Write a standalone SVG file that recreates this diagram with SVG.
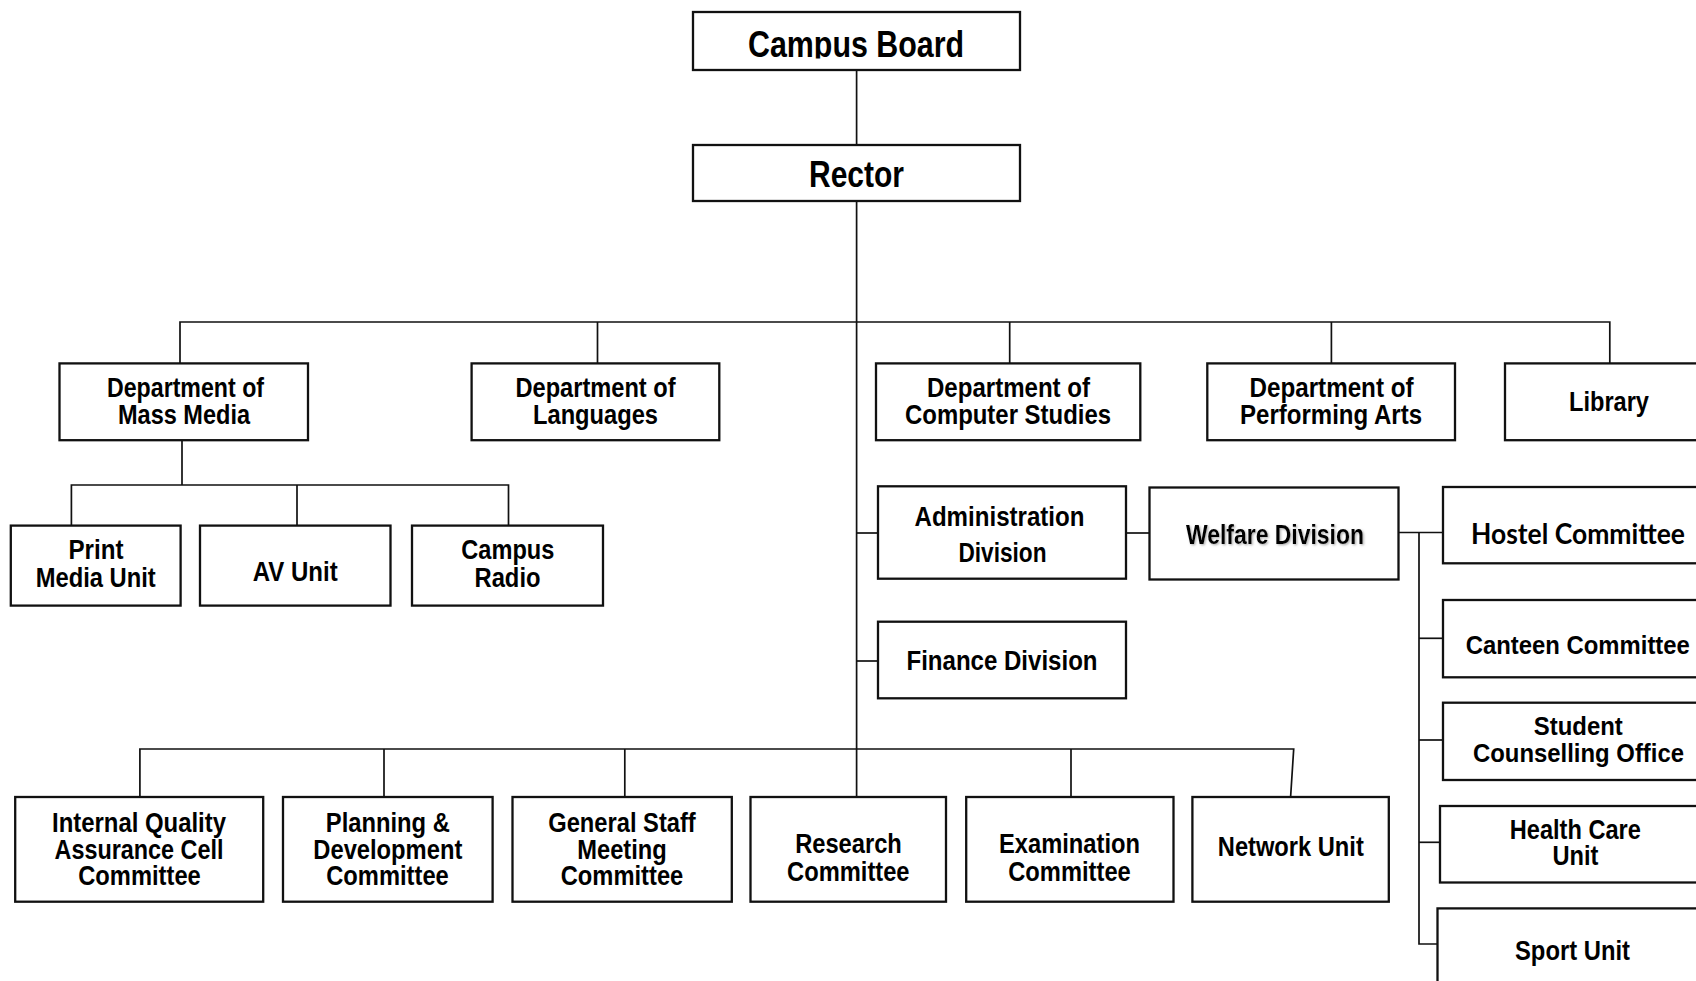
<svg xmlns="http://www.w3.org/2000/svg" width="1696" height="981" viewBox="0 0 1696 981">
<style>
.box{fill:#fff;stroke:#111;stroke-width:2.3}
.c{stroke:#111;stroke-width:1.7;fill:none}
.t{font-family:"Liberation Sans",Arial,sans-serif;font-weight:bold;font-size:27px;text-anchor:middle;fill:#000}
.big{font-size:37px}
.sm{font-size:25px}
.cal{font-family:Lato,"Open Sans","Liberation Sans",sans-serif;font-size:28px}
.sh{filter:url(#shadow)}
</style>
<defs>
<clipPath id="cbclip"><rect x="690" y="0" width="335" height="58.5"/></clipPath>
<filter id="shadow" x="-10%" y="-30%" width="120%" height="160%">
<feDropShadow dx="1.2" dy="1.2" stdDeviation="0.9" flood-color="#777" flood-opacity="0.6"/>
</filter>
</defs>
<rect width="1696" height="981" fill="#fff"/>

<g id="connectors">
<line class="c" x1="856.6" y1="70" x2="856.6" y2="145"/>
<line class="c" x1="856.6" y1="201" x2="856.6" y2="797"/>
<polyline class="c" points="180,363 180,322 1609.8,322 1609.8,363"/>
<line class="c" x1="597.5" y1="322" x2="597.5" y2="363"/>
<line class="c" x1="1009.7" y1="322" x2="1009.7" y2="363"/>
<line class="c" x1="1331.4" y1="322" x2="1331.4" y2="363"/>
<line class="c" x1="182" y1="440" x2="182" y2="485"/>
<polyline class="c" points="71.4,525.6 71.4,485 508.5,485 508.5,525.6"/>
<line class="c" x1="297" y1="485" x2="297" y2="525.6"/>
<line class="c" x1="856.6" y1="533" x2="878" y2="533"/>
<line class="c" x1="1126" y1="533" x2="1150" y2="533"/>
<line class="c" x1="856.6" y1="661" x2="878" y2="661"/>
<line class="c" x1="1398.5" y1="532.5" x2="1443" y2="532.5"/>
<polyline class="c" points="1419,532.5 1419,944 1437.5,944"/>
<line class="c" x1="1419" y1="638.3" x2="1443" y2="638.3"/>
<line class="c" x1="1419" y1="740" x2="1443" y2="740"/>
<line class="c" x1="1419" y1="842.3" x2="1440" y2="842.3"/>
<polyline class="c" points="139.9,797 139.9,749 1293.7,749 1290.6,797"/>
<line class="c" x1="384" y1="749" x2="384" y2="797"/>
<line class="c" x1="624.8" y1="749" x2="624.8" y2="797"/>
<line class="c" x1="1071" y1="749" x2="1071" y2="797"/>
</g>

<g id="campus-board">
<rect class="box" x="693" y="12" width="327" height="58"/>
<text class="t big" x="856" y="57" textLength="216" lengthAdjust="spacingAndGlyphs" clip-path="url(#cbclip)">Campus Board</text>
</g>
<g id="rector">
<rect class="box" x="693" y="145" width="327" height="56"/>
<text class="t big" x="856.5" y="187" textLength="95" lengthAdjust="spacingAndGlyphs">Rector</text>
</g>

<g id="dept-mass-media">
<rect class="box" x="59.5" y="363.4" width="248.5" height="76.8"/>
<text class="t" x="185.5" y="397" textLength="157" lengthAdjust="spacingAndGlyphs">Department of</text>
<text class="t" x="184" y="423.5" textLength="132" lengthAdjust="spacingAndGlyphs">Mass Media</text>
</g>
<g id="dept-languages">
<rect class="box" x="471.6" y="363.4" width="247.7" height="76.8"/>
<text class="t" x="595.5" y="397" textLength="160" lengthAdjust="spacingAndGlyphs">Department of</text>
<text class="t" x="595.5" y="423.5" textLength="125" lengthAdjust="spacingAndGlyphs">Languages</text>
</g>
<g id="dept-computer-studies">
<rect class="box" x="876" y="363.4" width="264.3" height="76.8"/>
<text class="t" x="1008.5" y="397" textLength="163" lengthAdjust="spacingAndGlyphs">Department of</text>
<text class="t" x="1008" y="423.5" textLength="206" lengthAdjust="spacingAndGlyphs">Computer Studies</text>
</g>
<g id="dept-performing-arts">
<rect class="box" x="1207.3" y="363.4" width="247.7" height="76.8"/>
<text class="t" x="1331.5" y="397" textLength="164" lengthAdjust="spacingAndGlyphs">Department of</text>
<text class="t" x="1331" y="423.5" textLength="182" lengthAdjust="spacingAndGlyphs">Performing Arts</text>
</g>
<g id="library">
<rect class="box" x="1505" y="363.4" width="215" height="76.8"/>
<text class="t" x="1609" y="410.5" textLength="80" lengthAdjust="spacingAndGlyphs">Library</text>
</g>

<g id="print-media-unit">
<rect class="box" x="10.8" y="525.6" width="169.8" height="80"/>
<text class="t" x="96" y="559" textLength="55" lengthAdjust="spacingAndGlyphs">Print</text>
<text class="t" x="95.7" y="587" textLength="120" lengthAdjust="spacingAndGlyphs">Media Unit</text>
</g>
<g id="av-unit">
<rect class="box" x="200" y="525.6" width="190.5" height="80"/>
<text class="t" x="295.2" y="581" textLength="85" lengthAdjust="spacingAndGlyphs">AV Unit</text>
</g>
<g id="campus-radio">
<rect class="box" x="412" y="525.6" width="191" height="80"/>
<text class="t" x="507.8" y="559" textLength="93" lengthAdjust="spacingAndGlyphs">Campus</text>
<text class="t" x="507.5" y="587" textLength="66" lengthAdjust="spacingAndGlyphs">Radio</text>
</g>

<g id="administration-division">
<rect class="box" x="878" y="486.3" width="248" height="92.4"/>
<text class="t" x="999.5" y="525.5" textLength="170" lengthAdjust="spacingAndGlyphs">Administration</text>
<text class="t" x="1002.5" y="561.5" textLength="88" lengthAdjust="spacingAndGlyphs">Division</text>
</g>
<g id="welfare-division">
<rect class="box" x="1149.5" y="487.5" width="249" height="92"/>
<text class="t sh" x="1275" y="544" textLength="178" lengthAdjust="spacingAndGlyphs">Welfare Division</text>
</g>
<g id="finance-division">
<rect class="box" x="878" y="621.7" width="248" height="76.6"/>
<text class="t" x="1002" y="670" textLength="191" lengthAdjust="spacingAndGlyphs">Finance Division</text>
</g>

<g id="hostel-committee">
<rect class="box" x="1443" y="487" width="275" height="76.3"/>
<text class="t cal" x="1578" y="543.5" textLength="214" lengthAdjust="spacingAndGlyphs">Hostel Committee</text>
</g>
<g id="canteen-committee">
<rect class="box" x="1443" y="600" width="275" height="77.3"/>
<text class="t sm" x="1577.8" y="654" textLength="224" lengthAdjust="spacingAndGlyphs">Canteen Committee</text>
</g>
<g id="student-counselling-office">
<rect class="box" x="1443" y="702.7" width="275" height="77.3"/>
<text class="t sm" x="1578.3" y="735" textLength="89" lengthAdjust="spacingAndGlyphs">Student</text>
<text class="t sm" x="1578.5" y="761.5" textLength="211" lengthAdjust="spacingAndGlyphs">Counselling Office</text>
</g>
<g id="health-care-unit">
<rect class="box" x="1440" y="806" width="278" height="76.5"/>
<text class="t" x="1575.3" y="838.5" textLength="131" lengthAdjust="spacingAndGlyphs">Health Care</text>
<text class="t" x="1575.5" y="865" textLength="46" lengthAdjust="spacingAndGlyphs">Unit</text>
</g>
<g id="sport-unit">
<rect class="box" x="1437.5" y="908.4" width="280" height="100"/>
<text class="t" x="1572.5" y="960" textLength="115" lengthAdjust="spacingAndGlyphs">Sport Unit</text>
</g>

<g id="iqac-committee">
<rect class="box" x="15.2" y="797" width="248" height="104.7"/>
<text class="t" x="139" y="832" textLength="174" lengthAdjust="spacingAndGlyphs">Internal Quality</text>
<text class="t" x="139" y="858.5" textLength="169" lengthAdjust="spacingAndGlyphs">Assurance Cell</text>
<text class="t" x="139.5" y="885" textLength="122.5" lengthAdjust="spacingAndGlyphs">Committee</text>
</g>
<g id="planning-development-committee">
<rect class="box" x="283" y="797" width="209.6" height="104.7"/>
<text class="t" x="387.8" y="832" textLength="124" lengthAdjust="spacingAndGlyphs">Planning &amp;</text>
<text class="t" x="387.8" y="858.5" textLength="149" lengthAdjust="spacingAndGlyphs">Development</text>
<text class="t" x="387.5" y="885" textLength="122.5" lengthAdjust="spacingAndGlyphs">Committee</text>
</g>
<g id="general-staff-meeting-committee">
<rect class="box" x="512.5" y="797" width="219.3" height="104.7"/>
<text class="t" x="622" y="832" textLength="147.5" lengthAdjust="spacingAndGlyphs">General Staff</text>
<text class="t" x="622" y="858.5" textLength="89.5" lengthAdjust="spacingAndGlyphs">Meeting</text>
<text class="t" x="622" y="885" textLength="122.5" lengthAdjust="spacingAndGlyphs">Committee</text>
</g>
<g id="research-committee">
<rect class="box" x="750.5" y="797" width="195.5" height="104.7"/>
<text class="t" x="848.5" y="853" textLength="106.7" lengthAdjust="spacingAndGlyphs">Research</text>
<text class="t" x="848.3" y="881" textLength="122.5" lengthAdjust="spacingAndGlyphs">Committee</text>
</g>
<g id="examination-committee">
<rect class="box" x="966.2" y="797" width="207.3" height="104.7"/>
<text class="t" x="1069.5" y="853" textLength="141" lengthAdjust="spacingAndGlyphs">Examination</text>
<text class="t" x="1069.5" y="881" textLength="122.5" lengthAdjust="spacingAndGlyphs">Committee</text>
</g>
<g id="network-unit">
<rect class="box" x="1192.4" y="797" width="196.4" height="104.7"/>
<text class="t" x="1290.8" y="856" textLength="146" lengthAdjust="spacingAndGlyphs">Network Unit</text>
</g>
</svg>
